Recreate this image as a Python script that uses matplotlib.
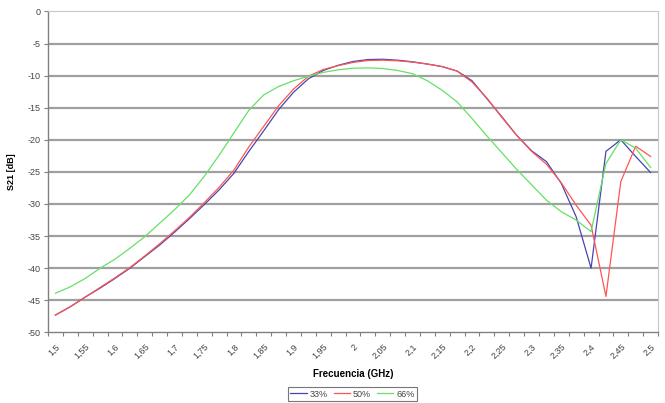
import matplotlib
matplotlib.use('Agg')
import matplotlib.pyplot as plt

# categories (GHz), one every 0.025
freq = [1.5, 1.525, 1.55, 1.575, 1.6, 1.625, 1.65, 1.675, 1.7, 1.725,
        1.75, 1.775, 1.8, 1.825, 1.85, 1.875, 1.9, 1.925, 1.95, 1.975,
        2.0, 2.025, 2.05, 2.075, 2.1, 2.125, 2.15, 2.175, 2.2, 2.225,
        2.25, 2.275, 2.3, 2.325, 2.35, 2.375, 2.4, 2.425, 2.45, 2.475, 2.5]

s21_33 = [-47.3, -46.0, -44.5, -43.1, -41.6, -40.0, -38.2, -36.4, -34.4, -32.3,
          -30.1, -27.8, -25.2, -21.8, -18.6, -15.3, -12.6, -10.5, -9.2, -8.4,
          -7.8, -7.5, -7.45, -7.6, -7.85, -8.2, -8.6, -9.3, -10.8, -13.6,
          -16.4, -19.3, -21.7, -23.4, -26.8, -32.0, -40.0, -21.8, -20.0, -22.6,
          -25.1]

s21_50 = [-47.3, -46.0, -44.5, -43.0, -41.5, -39.9, -38.1, -36.2, -34.2, -32.1,
          -29.8, -27.4, -24.7, -21.1, -17.9, -14.7, -12.1, -10.1, -9.05, -8.45,
          -7.95, -7.65, -7.6, -7.7, -7.9, -8.2, -8.6, -9.3, -11.0, -13.5,
          -16.5, -19.3, -21.8, -23.8, -26.7, -30.2, -33.3, -44.4, -26.5, -21.0,
          -22.6]

s21_66 = [-43.9, -42.9, -41.6, -40.0, -38.6, -36.9, -35.1, -33.0, -30.9, -28.6,
          -25.7, -22.4, -18.9, -15.4, -13.0, -11.7, -10.8, -10.1, -9.5, -9.1,
          -8.85, -8.8, -8.9, -9.2, -9.7, -10.8, -12.3, -14.1, -16.7, -19.4,
          -22.0, -24.6, -27.0, -29.4, -31.2, -32.5, -34.3, -23.7, -20.0, -21.3,
          -24.3]

series = [('33%', s21_33, '#4646b0'),
          ('50%', s21_50, '#ff5555'),
          ('66%', s21_66, '#66e066')]

y_ticks = [0, -5, -10, -15, -20, -25, -30, -35, -40, -45, -50]

plt.rcParams['font.family'] = ['Liberation Sans', 'DejaVu Sans']

fig = plt.figure(figsize=(6.65, 4.03), dpi=100)
ax = fig.add_axes([0.0722, 0.1752, 0.9173, 0.7965])

cats = list(range(len(freq)))
for name, vals, col in series:
    ax.plot(cats, vals, color=col, lw=0.9, label=name, zorder=3)

# horizontal gridlines (Excel style)
for yv in y_ticks[1:-1]:
    ax.axhline(yv, color='#a0a0a0', lw=1.6, zorder=1)

ax.set_ylim(-50, 0)
ax.set_yticks(y_ticks)
ax.set_yticklabels([str(v) for v in y_ticks])
ax.set_xlim(-0.5, len(freq) - 0.5)

# major ticks on category borders, labels on every second category
ax.set_xticks([c - 0.5 for c in range(len(freq) + 1)])
ax.set_xticklabels([])
lab_pos = cats[::2]
ax.set_xticks(lab_pos, minor=True)
ax.set_xticklabels([('%g' % freq[i]).replace('.', ',') for i in lab_pos],
                   minor=True, rotation=45, ha='right', va='top',
                   rotation_mode='anchor')
ax.tick_params(axis='x', which='minor', length=0, pad=7, labelsize=6.5,
               labelcolor='#444444')
ax.tick_params(axis='x', which='major', length=3, width=0.8, color='#808080')
ax.tick_params(axis='y', length=3, width=0.8, color='#808080', labelsize=6.5,
               labelcolor='#444444', pad=2)

for side in ['left', 'bottom']:
    ax.spines[side].set_color('#808080')
    ax.spines[side].set_linewidth(1.0)
for side in ['top', 'right']:
    ax.spines[side].set_color('#c8c8c8')
    ax.spines[side].set_linewidth(0.8)

ax.set_ylabel('S21 [dB]', fontsize=6.5, fontweight='bold', labelpad=9)
ax.set_xlabel('Frecuencia (GHz)', fontsize=7, fontweight='bold', labelpad=6)

leg = fig.legend(loc='center', bbox_to_anchor=(0.53, 0.022), ncol=3,
                 fontsize=6.5, frameon=True, fancybox=False, handlelength=1.8,
                 handletextpad=0.3, columnspacing=0.7, borderpad=0.25,
                 labelcolor='#444444')
leg.get_frame().set_edgecolor('#555555')
leg.get_frame().set_linewidth(0.8)

fig.savefig('out.png', dpi=100)
